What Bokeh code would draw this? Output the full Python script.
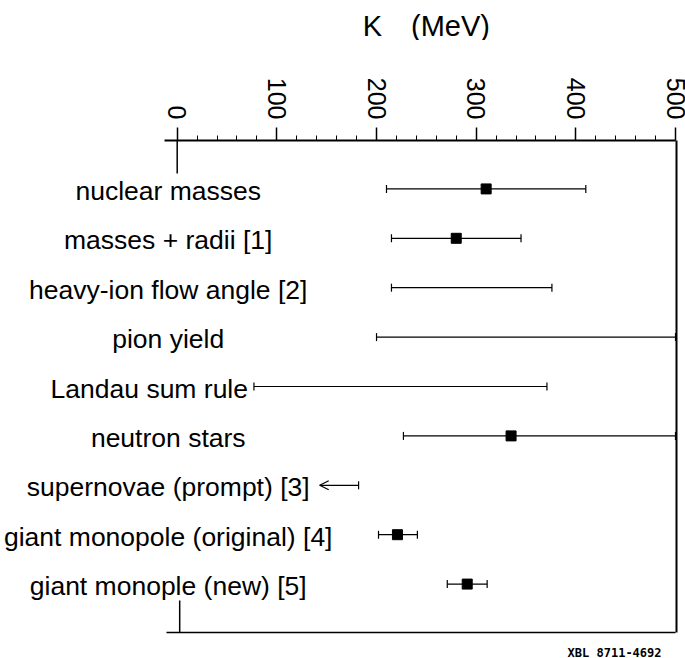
import math
from bokeh.plotting import figure
from bokeh.layouts import column
from bokeh.models import (Range1d, LinearAxis, FixedTicker, ColumnDataSource,
                          Whisker, TeeHead, OpenHead)
from bokeh.core.properties import value
from bokeh.embed import file_html
from bokeh.resources import INLINE

# ---- data (K in MeV) ----
methods = ["nuclear masses", "masses + radii [1]", "heavy-ion flow angle [2]",
           "pion yield", "Landau sum rule", "neutron stars",
           "supernovae (prompt) [3]", "giant monopole (original) [4]",
           "giant monople (new) [5]"]
k_low = [210, 215, 215, 200, 77, 227, 143, 202, 271]
k_high = [410, 345, 376, 500, 371, 500, 182, 241, 311]
k_best = [310, 280, None, None, None, 335, None, 221, 291]
upper_limit_only = [False, False, False, False, False, False, True, False, False]
tick_values = [0, 100, 200, 300, 400, 500]
minor_tick_values = list(range(0, 501, 20))
axis_title = "K\u2003(MeV)"
figure_code = "XBL 8711-4692"

rows = list(range(len(methods)))
W = 685
x_range = Range1d(-177.3, 501)


def strip(height):
    f = figure(width=W, height=height, x_range=x_range, y_range=Range1d(height, 0),
               output_backend="svg", toolbar_location=None,
               x_axis_location=None, y_axis_location=None, min_border=0,
               min_border_right=9)
    f.xgrid.visible = False
    f.ygrid.visible = False
    f.outline_line_color = None
    return f


# ---- title strip ----
top = strip(40)
top.text(x=[250], y=[25], text=[axis_title], text_align="center",
         text_baseline="middle", text_font=value("Liberation Sans"),
         text_font_size="29px", text_color="black")

# ---- main plot ----
y_top, y_bot = -0.98, 8.98
p = figure(width=W, height=600, x_range=x_range,
           y_range=Range1d(y_bot, y_top), output_backend="svg",
           toolbar_location=None, x_axis_location="above", y_axis_location=None,
           min_border_left=0, min_border_right=9, min_border_top=100,
           min_border_bottom=8)
p.xgrid.visible = False
p.ygrid.visible = False
p.outline_line_color = None

ax = p.xaxis[0]
ax.ticker = FixedTicker(ticks=tick_values, minor_ticks=minor_tick_values)
ax.bounds = (-13, 500)
ax.major_label_orientation = -math.pi / 2
ax.major_tick_in = 0
ax.major_tick_out = 13
ax.minor_tick_in = 0
ax.minor_tick_out = 5
ax.axis_line_width = 2
ax.major_tick_line_width = 1.5
ax.minor_tick_line_width = 1
ax.axis_line_color = "black"
ax.major_label_text_font = "Liberation Sans"
ax.major_label_text_font_size = "25px"
ax.major_label_text_color = "black"
ax.major_label_standoff = 8


def frame_edge_axis(**kw):
    return LinearAxis(ticker=FixedTicker(ticks=[]), axis_line_color="black",
                      major_tick_line_color=None, minor_tick_line_color=None,
                      major_tick_out=0, major_tick_in=0, minor_tick_out=0,
                      minor_tick_in=0, major_label_standoff=0,
                      axis_label_standoff=0, major_label_text_font_size="0px", **kw)


p.add_layout(frame_edge_axis(axis_line_width=2), "right")
p.add_layout(frame_edge_axis(axis_line_width=1.5, bounds=(-11, 500)), "below")

# left-edge stubs of the frame
p.segment(x0=[0, 2.5], y0=[y_top, y_bot], x1=[0, 2.5], y1=[y_top + 0.67, y_bot - 0.65],
          line_color="black", line_width=1.5)

# ---- error bars ----
norm = [i for i in rows if not upper_limit_only[i]]
src = ColumnDataSource(dict(y=[rows[i] for i in norm], lo=[k_low[i] for i in norm],
                            hi=[k_high[i] for i in norm]))
p.add_layout(Whisker(source=src, base="y", lower="lo", upper="hi", dimension="width",
                     line_color="black", line_width=1.2,
                     lower_head=TeeHead(size=8, line_width=1.2, line_color="black"),
                     upper_head=TeeHead(size=8, line_width=1.2, line_color="black")))

lim = [i for i in rows if upper_limit_only[i]]
src_lim = ColumnDataSource(dict(y=[rows[i] for i in lim], lo=[k_low[i] for i in lim],
                                hi=[k_high[i] for i in lim]))
p.add_layout(Whisker(source=src_lim, base="y", lower="lo", upper="hi", dimension="width",
                     line_color="black", line_width=1.2,
                     lower_head=OpenHead(size=9, line_width=1.2, line_color="black"),
                     upper_head=TeeHead(size=8, line_width=1.2, line_color="black")))

# central values
pts = [i for i in rows if k_best[i] is not None]
p.scatter(x=[k_best[i] for i in pts], y=[rows[i] for i in pts], marker="square",
          size=10, fill_color="black", line_color="black")

# method labels
label_x = [-9] * len(methods)
label_x[4] = -28
p.text(x=label_x, y=rows, text=methods, text_align="center", text_baseline="middle",
       text_font=value("Liberation Sans"), text_font_size="26.5px", text_color="black",
       y_offset=2)

# ---- figure-code strip ----
bottom = strip(18)
bottom.text(x=[500], y=[12], text=[figure_code], x_offset=-14, text_align="right",
            text_baseline="middle", text_font=value("DejaVu Sans Mono"),
            text_font_style="bold", text_font_size="12px", text_color="black")

layout = column(top, p, bottom, spacing=0)
open("out.html", "w").write(file_html(layout, INLINE))
